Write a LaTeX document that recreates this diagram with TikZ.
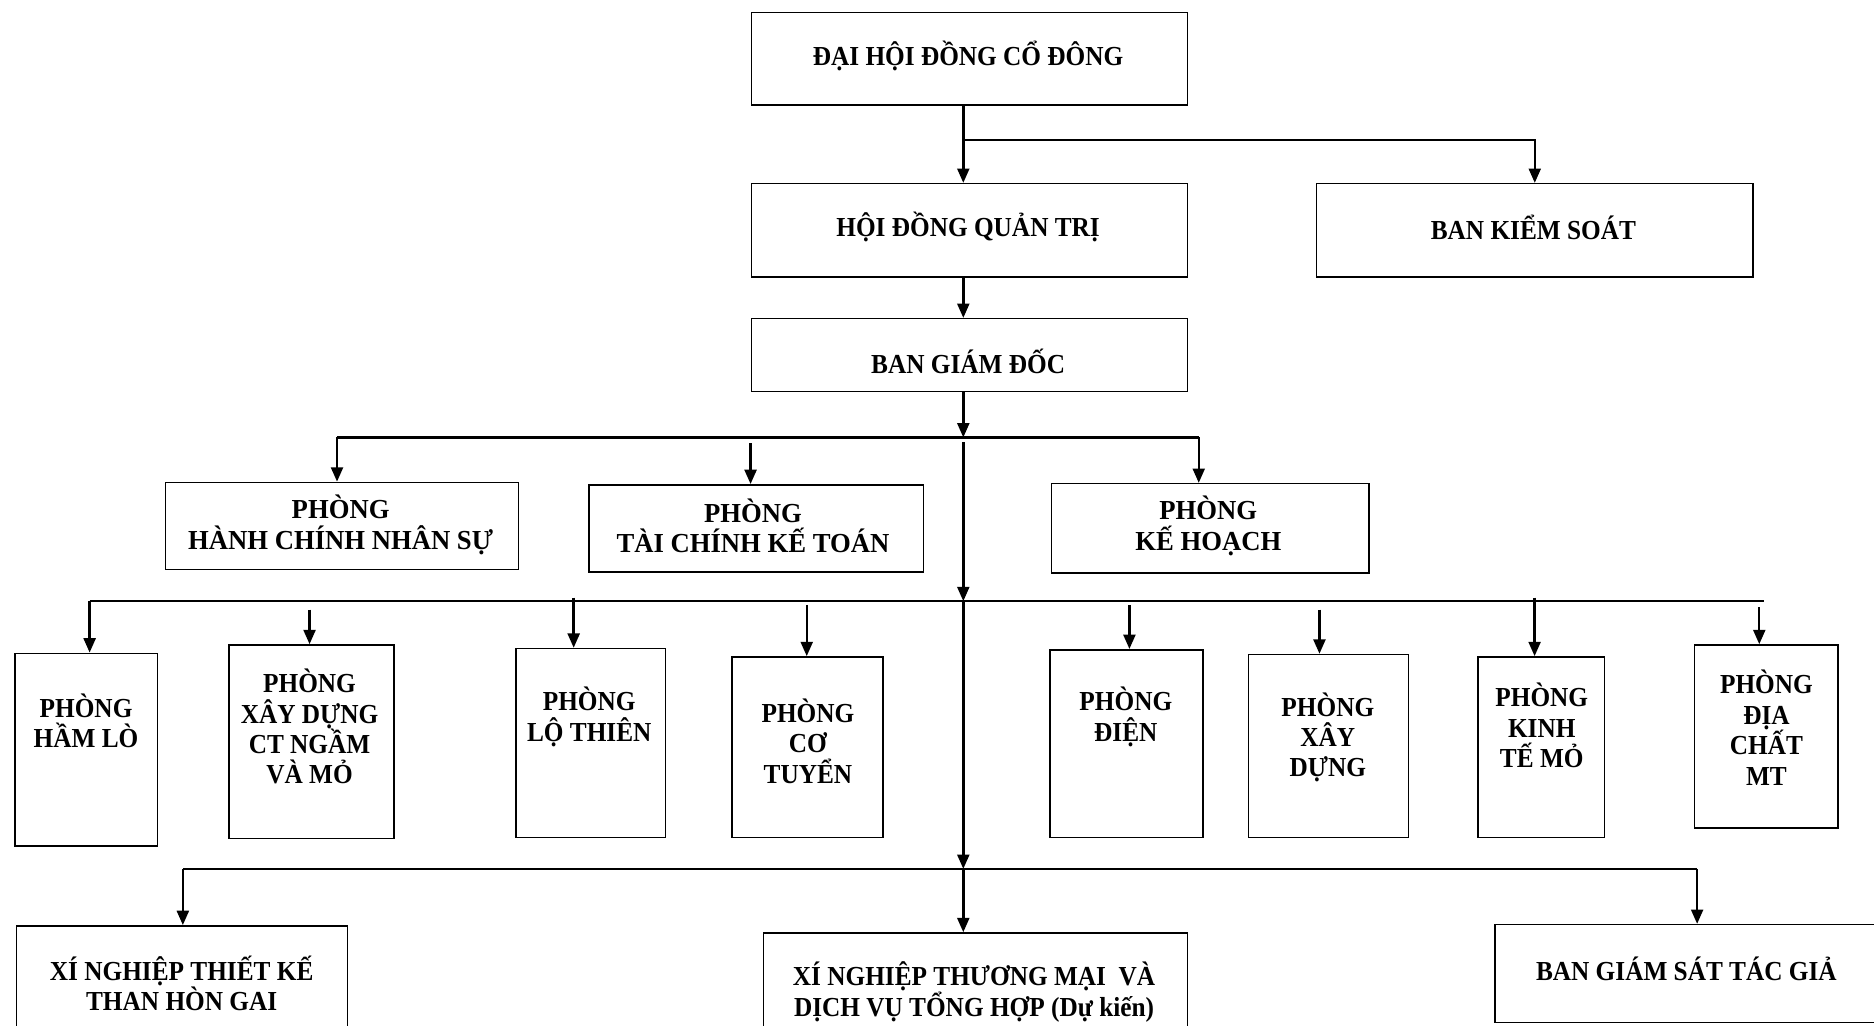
\documentclass[tikz,border=0pt]{standalone}
\usepackage{fontspec}
\setmainfont{Liberation Serif}[FakeStretch=0.92]
\newfontfamily\widerfont{Liberation Serif}[FakeStretch=0.97]
\usetikzlibrary{arrows.meta}
\begin{document}
\begin{tikzpicture}[x=1pt,y=-1pt,
  box/.style={draw,line width=1.3pt,inner sep=0pt,anchor=north west},
  lbl/.style={font=\bfseries\fontsize{23}{25.5}\selectfont,align=center,inner sep=0pt},
  lblw/.style={font=\widerfont\bfseries\fontsize{23}{25.5}\selectfont,align=center,inner sep=0pt},
  conn/.style={line width=2pt},
  arr/.style={line width=2pt,-{Triangle[length=12pt,width=10pt]}}]
\useasboundingbox (0,0) rectangle (1568,858);
\clip (0,0) rectangle (1568,858);
% top level boxes
\node[box,minimum width=365pt,minimum height=77pt] (dhd) at (628,10) {};
\node[lbl] at (810,47) {ĐẠI HỘI ĐỒNG CỔ ĐÔNG};
\node[box,minimum width=365pt,minimum height=78pt] (hdqt) at (628,153) {};
\node[lbl] at (810,190) {HỘI ĐỒNG QUẢN TRỊ};
\node[box,minimum width=365pt,minimum height=78pt] (bks) at (1101,153) {};
\node[lbl] at (1283,190) {BAN KIỂM SOÁT};
\node[box,minimum width=365pt,minimum height=61pt] (bgd) at (628,266) {};
\node[lbl] at (810,302) {BAN GIÁM ĐỐC};
% second level
\node[box,minimum width=295pt,minimum height=73pt] (hcns) at (138,403) {};
\node[lblw] at (285,439) {PHÒNG\\HÀNH CHÍNH NHÂN SỰ};
\node[box,minimum width=280pt,minimum height=73pt] (tckt) at (492,405) {};
\node[lblw] at (630,440) {PHÒNG\\TÀI CHÍNH KẾ TOÁN};
\node[box,minimum width=266pt,minimum height=75pt] (kh) at (879,404) {};
\node[lblw] at (1011,440) {PHÒNG\\KẾ HOẠCH};
% third level
\node[box,minimum width=119pt,minimum height=161pt] (hl) at (12,546) {};
\node[lbl] at (72,603) {PHÒNG\\HẦM LÒ};
\node[box,minimum width=138pt,minimum height=162pt] (xdct) at (191,539) {};
\node[lbl] at (259,608) {PHÒNG\\XÂY DỰNG\\CT NGẦM\\VÀ MỎ};
\node[box,minimum width=125pt,minimum height=158pt] (lt) at (431,542) {};
\node[lbl] at (493,600) {PHÒNG\\LỘ THIÊN};
\node[box,minimum width=126pt,minimum height=151pt] (ct) at (612,549) {};
\node[lbl] at (676,620) {PHÒNG\\CƠ\\TUYỂN};
\node[box,minimum width=128pt,minimum height=157pt] (dien) at (878,543) {};
\node[lbl] at (942,600) {PHÒNG\\ĐIỆN};
\node[box,minimum width=134pt,minimum height=153pt] (xd) at (1044,547) {};
\node[lbl] at (1111,617) {PHÒNG\\XÂY\\DỰNG};
\node[box,minimum width=106pt,minimum height=151pt] (ktm) at (1236,549) {};
\node[lbl] at (1290,607) {PHÒNG\\KINH\\TẾ MỎ};
\node[box,minimum width=120pt,minimum height=153pt] (dcmt) at (1417,539) {};
\node[lbl] at (1478,609) {PHÒNG\\ĐỊA\\CHẤT\\MT};
% bottom level
\node[box,minimum width=277pt,minimum height=100pt] (xntk) at (13,774) {};
\node[lbl] at (152,823) {XÍ NGHIỆP THIẾT KẾ\\THAN HÒN GAI};
\node[box,minimum width=355pt,minimum height=100pt] (xntm) at (638,780) {};
\node[lbl] at (815,830) {XÍ NGHIỆP THƯƠNG MẠI\ \ VÀ\\DỊCH VỤ TỔNG HỢP (Dự kiến)};
\node[box,minimum width=330pt,minimum height=82pt] (bgs) at (1250,773) {};
\node[lbl] at (1411,811) {BAN GIÁM SÁT TÁC GIẢ};
% junction coordinates
\coordinate (j1) at (806,117);
\coordinate (j2) at (806,366);
\coordinate (j3) at (806,503);
\coordinate (j4) at (806,727);
% connectors top
\draw[arr] (dhd.south -| j1) -- (hdqt.north -| j1);
\draw[arr] (j1) -| (bks.north);
\draw[arr] (hdqt.south -| j1) -- (bgd.north -| j1);
\draw[arr] (bgd.south -| j2) -- (j2);
% second-level branch
\draw[conn] (282,366) -- (1003,366);
\draw[arr] (282,366) -- (hcns.north -| 282,0);
\draw[arr] (628,371) -- (tckt.north -| 628,0);
\draw[arr] (1003,366) -- (kh.north -| 1003,0);
\draw[arr] (806,370) -- (j3);
% third-level branch
\draw[conn] (75,503) -- (1476,503);
\draw[arr] (75,503) -- (hl.north -| 75,0);
\draw[arr] (259,510) -- (xdct.north -| 259,0);
\draw[arr] (480,500) -- (lt.north -| 480,0);
\draw[arr] (675,506) -- (ct.north -| 675,0);
\draw[arr] (945,506) -- (dien.north -| 945,0);
\draw[arr] (1104,510) -- (xd.north -| 1104,0);
\draw[arr] (1284,500) -- (ktm.north -| 1284,0);
\draw[arr] (1472,508) -- (dcmt.north -| 1472,0);
\draw[arr] (j3) -- (j4);
% bottom branch
\draw[conn] (153,727) -- (1420,727);
\draw[arr] (153,727) -- (xntk.north -| 153,0);
\draw[arr] (j4) -- (xntm.north -| j4);
\draw[arr] (1420,727) -- (bgs.north -| 1420,0);
\end{tikzpicture}
\end{document}
